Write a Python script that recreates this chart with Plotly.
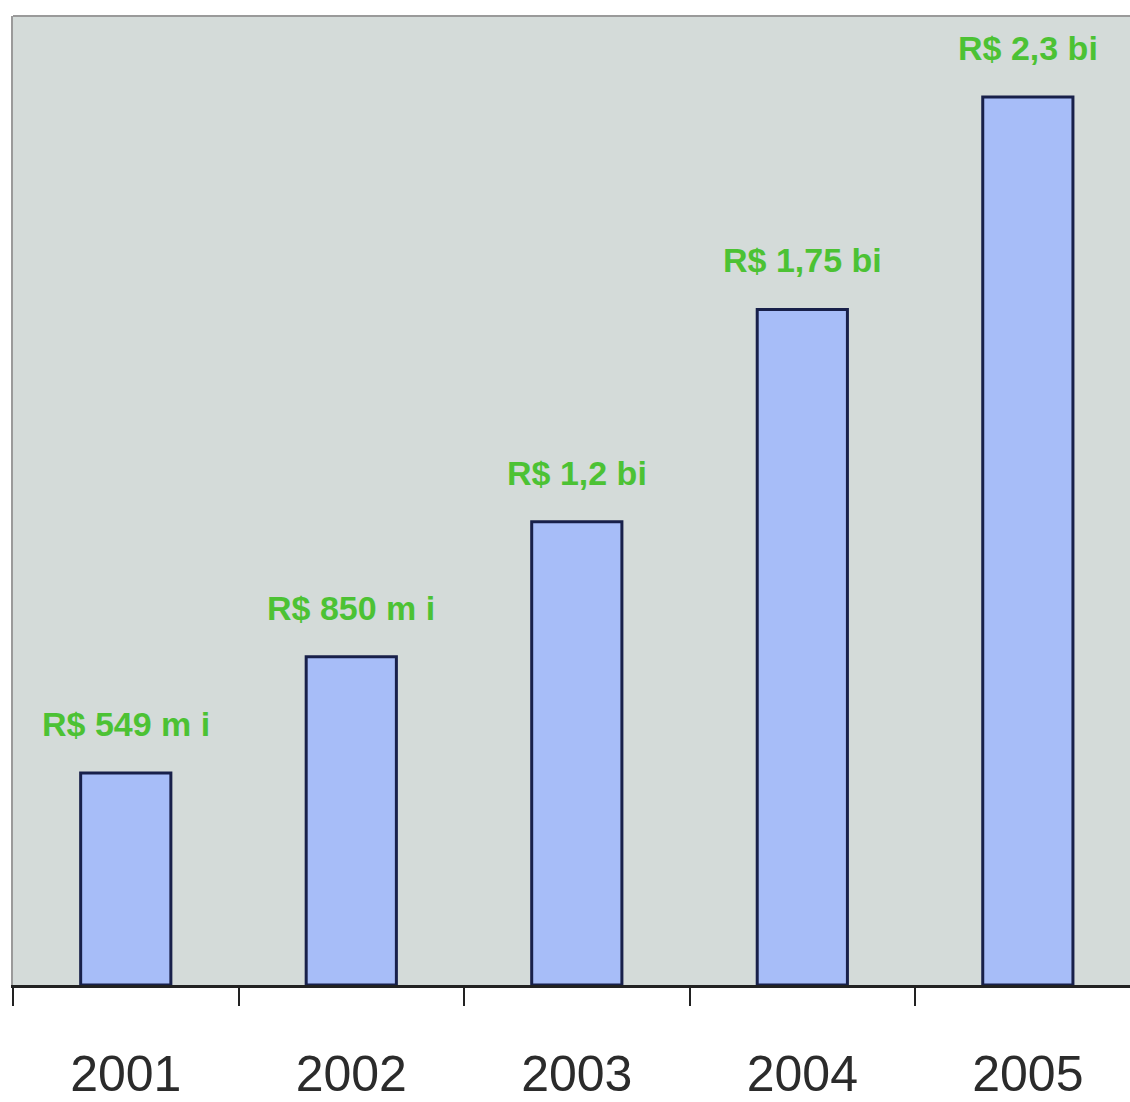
import plotly.graph_objects as go

years = ["2001", "2002", "2003", "2004", "2005"]
values = [549, 850, 1200, 1750, 2300]  # R$ milhões
labels = ["R&#36; 549 m i", "R&#36; 850 m i", "R&#36; 1,2 bi", "R&#36; 1,75 bi", "R&#36; 2,3 bi"]

fig = go.Figure()
fig.add_trace(go.Bar(
    x=years, y=values,
    width=0.4,
    marker=dict(color="#a7bdf8", line=dict(color="#18204a", width=3)),
    hoverinfo="skip",
))

# category index positions (numeric-looking category names are ambiguous for annotations)
for i, (y, t) in enumerate(zip(values, labels)):
    fig.add_annotation(
        x=i, y=y, text="<b>" + t + "</b>", showarrow=False,
        yanchor="middle", yshift=49,
        font=dict(family="Liberation Sans, Arial, sans-serif", size=34, color="#4cc234"),
    )

fig.update_layout(
    width=1130, height=1102,
    margin=dict(l=13, r=0, t=16, b=114 - 11),
    paper_bgcolor="white",
    plot_bgcolor="#d4dbd9",
    showlegend=False,
    xaxis=dict(
        type="category",
        range=[-0.5, 4.453],
        tickson="boundaries",
        ticks="outside", ticklen=18, tickwidth=2, tickcolor="#222222",
        showline=True, linecolor="#222222", linewidth=2.5,
        showgrid=False,
        tickfont=dict(family="Liberation Sans, Arial, sans-serif", size=50, color="#2b2b2b"),
        ticklabelstandoff=43,
    ),
    yaxis=dict(
        range=[0, 2510],
        showgrid=False, zeroline=False,
        showticklabels=False, ticks="",
        showline=True, linecolor="#9a9a9a", linewidth=2, mirror=False,
    ),
    shapes=[dict(type="line", xref="paper", yref="paper", x0=0, x1=1, y0=1, y1=1,
                 line=dict(color="#9a9a9a", width=2))],
)

fig.write_html(
    "out.html",
    config={"displayModeBar": False},
    post_script="document.body.style.margin='0';document.body.style.overflow='hidden';",
)
